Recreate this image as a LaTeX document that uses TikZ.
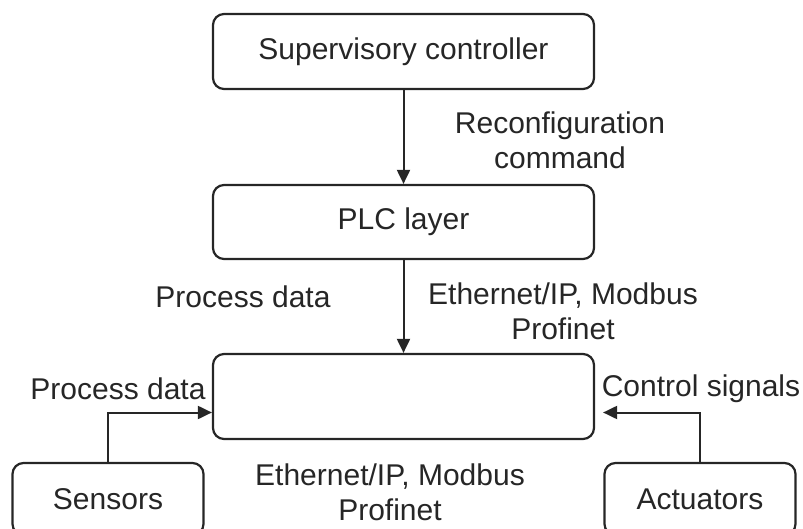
\documentclass[tikz,border=0pt]{standalone}
\usepackage{fontspec}
\setmainfont{Liberation Sans}
\usetikzlibrary{arrows.meta}

\definecolor{ink}{HTML}{262626}

\tikzset{
    block/.style={draw=ink, line width=2.2pt, rounded corners=11pt, minimum width=381pt, inner sep=0pt},
    smallblock/.style={block, minimum width=191pt, minimum height=72pt},
    arr/.style={draw=ink, line width=2pt, -{Triangle[length=14pt,width=13pt]}},
    lbl/.style={text=ink, align=center, inner sep=0pt}
}

\begin{document}
\begin{tikzpicture}[x=1pt, y=-1pt, font=\fontsize{30}{35}\selectfont]
    \useasboundingbox (0,0) rectangle (803,529);
    \node [block, minimum height=75pt, text=ink] (sup) at (403.5,51.5) {Supervisory controller};
    \node [block, minimum height=74pt, text=ink] (plc) at (403.5,222) {PLC layer};
    \node [block, minimum height=85pt] (dev) at (403.5,396.5) {};
    \node [smallblock, text=ink] (sens) at (108,499) {Sensors};
    \node [smallblock, text=ink] (act) at (700,499) {Actuators};

    \draw [arr] (sup) -- (plc);
    \draw [arr] (plc) -- (dev);
    \draw [arr] (sens.north) |- ([yshift=-16pt]dev.west);
    \draw [arr, shorten >=8pt] (act.north) |- ([yshift=-16pt]dev.east);

    \node [lbl] (reconf) at (560,140) {Reconfiguration\\command};
    \node [lbl] (procup) at (243,297) {Process data};
    \node [lbl] (busup) at (563,311) {Ethernet/IP, Modbus\\Profinet};
    \node [lbl] (proclow) at (118,389) {Process data};
    \node [lbl] (ctrl) at (701,389) {Control signals};
    \node [lbl] (buslow) at (390,492) {Ethernet/IP, Modbus\\Profinet};
\end{tikzpicture}
\end{document}
